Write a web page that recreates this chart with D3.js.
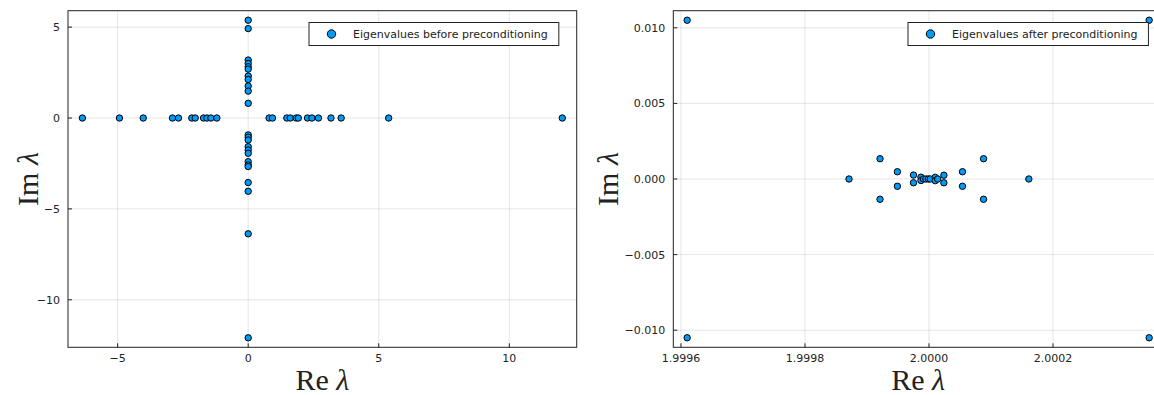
<!DOCTYPE html>
<html>
<head>
<meta charset="utf-8">
<script src="https://cdn.jsdelivr.net/npm/d3@7"></script>
<style>
  body { margin: 0; background: #fff; overflow: hidden; }
  svg { display: block; }
</style>
</head>
<body>
<div id="chart"></div>
<script>
// eigenvalues before preconditioning: real ones on the real axis, imaginary ones on the imaginary axis
const realEigs = [-6.35, -4.93, -4.02, -2.90, -2.67, -2.16, -2.03, -1.71, -1.58, -1.43, -1.20,
  0.80, 0.93, 1.48, 1.61, 1.84, 1.92, 2.27, 2.44, 2.69, 3.17, 3.56, 5.38, 12.03]
const imagEigs = [5.38, 4.92, 3.19, 3.00, 2.82, 2.69, 2.31, 2.12, 1.76, 1.48, 0.81,
  -0.93, -1.06, -1.21, -1.58, -1.76, -1.94, -2.40, -2.58, -2.67, -3.55, -4.03, -6.37, -12.09]

// eigenvalues after preconditioning (re, im)
const afterRe = [1.99961, 1.99961, 2.000355, 2.000355, 1.999871, 1.999921, 1.999921, 1.999949, 1.999949,
  1.999975, 1.999975, 2.000024, 2.000024, 2.000054, 2.000054, 2.000088, 2.000088, 2.000161,
  1.999987, 1.999987, 1.999991, 1.999995, 1.999999, 2.000002, 2.000010, 2.000010, 2.000014]
const afterIm = [0.0105, -0.0105, 0.0105, -0.0105, 0, 0.00134, -0.00134, 0.00048, -0.00048,
  0.00026, -0.00025, 0.00025, -0.00025, 0.00048, -0.00048, 0.00134, -0.00134, 0,
  0.00012, -0.0001, 0, 0, 0, 0, 0.00011, -0.00011, 0]

const leftXTicks = [-5, 0, 5, 10]
const leftYTicks = [-10, -5, 0, 5]
const rightXTicks = [1.9996, 1.9998, 2.0000, 2.0002]
const rightYTicks = [-0.010, -0.005, 0, 0.005, 0.010]

const width = 1154, height = 395
const svg = d3.select("#chart").append("svg")
  .attr("width", width)
  .attr("height", height)

const beforePts = realEigs.map(v => ({ re: v, im: 0 }))
  .concat(imagEigs.map(v => ({ re: 0, im: v })))
const afterPts = afterRe.map((v, i) => ({ re: v, im: afterIm[i] }))

// Plots.jl style padding: 3% on each side
function padded(vals) {
  const [a, b] = d3.extent(vals)
  const p = (b - a) * 0.03
  return [a - p, b + p]
}

const minus = s => s.replace("-", "\u2212")

function panel({ pts, x0, x1, xTicks, yTicks, xFmt, yFmt, legend, ylabX }) {
  const top = 10.7, bottom = 347.3
  const x = d3.scaleLinear().domain(padded(pts.map(d => d.re))).range([x0, x1])
  const y = d3.scaleLinear().domain(padded(pts.map(d => d.im))).range([bottom, top])

  const g = svg.append("g")

  // grid
  g.selectAll(".gx").data(xTicks).join("line")
    .attr("x1", d => x(d)).attr("x2", d => x(d))
    .attr("y1", top).attr("y2", bottom)
    .attr("stroke", "#000").attr("stroke-opacity", 0.1).attr("stroke-width", 1)
  g.selectAll(".gy").data(yTicks).join("line")
    .attr("x1", x0).attr("x2", x1)
    .attr("y1", d => y(d)).attr("y2", d => y(d))
    .attr("stroke", "#000").attr("stroke-opacity", 0.1).attr("stroke-width", 1)

  // frame
  g.append("rect")
    .attr("x", x0).attr("y", top)
    .attr("width", x1 - x0).attr("height", bottom - top)
    .attr("fill", "none").attr("stroke", "#222").attr("stroke-width", 1)

  // tick marks (inside)
  g.selectAll(".tx").data(xTicks).join("line")
    .attr("x1", d => x(d)).attr("x2", d => x(d))
    .attr("y1", bottom).attr("y2", bottom - 4)
    .attr("stroke", "#222")
  g.selectAll(".ty").data(yTicks).join("line")
    .attr("x1", x0).attr("x2", x0 + 4)
    .attr("y1", d => y(d)).attr("y2", d => y(d))
    .attr("stroke", "#222")

  // tick labels
  g.selectAll(".lx").data(xTicks).join("text")
    .attr("x", d => x(d)).attr("y", 362)
    .attr("text-anchor", "middle")
    .attr("font-family", "DejaVu Sans").attr("font-size", "11px")
    .attr("fill", "#222")
    .text(d => minus(xFmt(d)))
  g.selectAll(".ly").data(yTicks).join("text")
    .attr("x", x0 - 8).attr("y", d => y(d)).attr("dy", "0.36em")
    .attr("text-anchor", "end")
    .attr("font-family", "DejaVu Sans").attr("font-size", "11px")
    .attr("fill", "#222")
    .text(d => minus(yFmt(d)))

  // axis labels
  const xl = g.append("text")
    .attr("x", (x0 + x1) / 2).attr("y", 390)
    .attr("text-anchor", "middle")
    .attr("font-family", "Liberation Serif").attr("font-size", "30px")
    .attr("fill", "#222")
  xl.append("tspan").text("Re ")
  xl.append("tspan").attr("font-style", "italic").text("λ")

  const yl = g.append("text")
    .attr("transform", `translate(${ylabX},${(top + bottom) / 2}) rotate(-90)`)
    .attr("text-anchor", "middle")
    .attr("font-family", "Liberation Serif").attr("font-size", "30px")
    .attr("fill", "#222")
  yl.append("tspan").text("Im ")
  yl.append("tspan").attr("font-style", "italic").text("λ")

  // points
  g.append("g").selectAll("circle").data(pts).join("circle")
    .attr("cx", d => x(d.re)).attr("cy", d => y(d.im))
    .attr("r", 3.2)
    .attr("fill", "#009af9")
    .attr("stroke", "#000").attr("stroke-width", 1)

  // legend
  const lg = g.append("g")
  const lt = lg.append("text")
    .attr("x", legend.x + 44).attr("y", 38)
    .attr("font-family", "DejaVu Sans").attr("font-size", "11px")
    .attr("fill", "#222")
    .text(legend.text)
  const tw = lt.node().getComputedTextLength()
  lg.insert("rect", "text")
    .attr("x", legend.x).attr("y", 22.5)
    .attr("width", tw + 44 + 11).attr("height", 23)
    .attr("fill", "#fff").attr("stroke", "#222").attr("stroke-width", 1)
  lg.append("circle")
    .attr("cx", legend.x + 22.5).attr("cy", 34)
    .attr("r", 4.2)
    .attr("fill", "#009af9").attr("stroke", "#000").attr("stroke-width", 1)
}

panel({
  pts: beforePts, x0: 68, x1: 576.7,
  xTicks: leftXTicks, yTicks: leftYTicks,
  xFmt: d3.format("d"), yFmt: d3.format("d"),
  legend: { x: 309, text: "Eigenvalues before preconditioning" },
  ylabX: 38
})

panel({
  pts: afterPts, x0: 673.3, x1: 1163,
  xTicks: rightXTicks, yTicks: rightYTicks,
  xFmt: d3.format(".4f"), yFmt: d3.format(".3f"),
  legend: { x: 908, text: "Eigenvalues after preconditioning" },
  ylabX: 618
})
</script>
</body>
</html>
